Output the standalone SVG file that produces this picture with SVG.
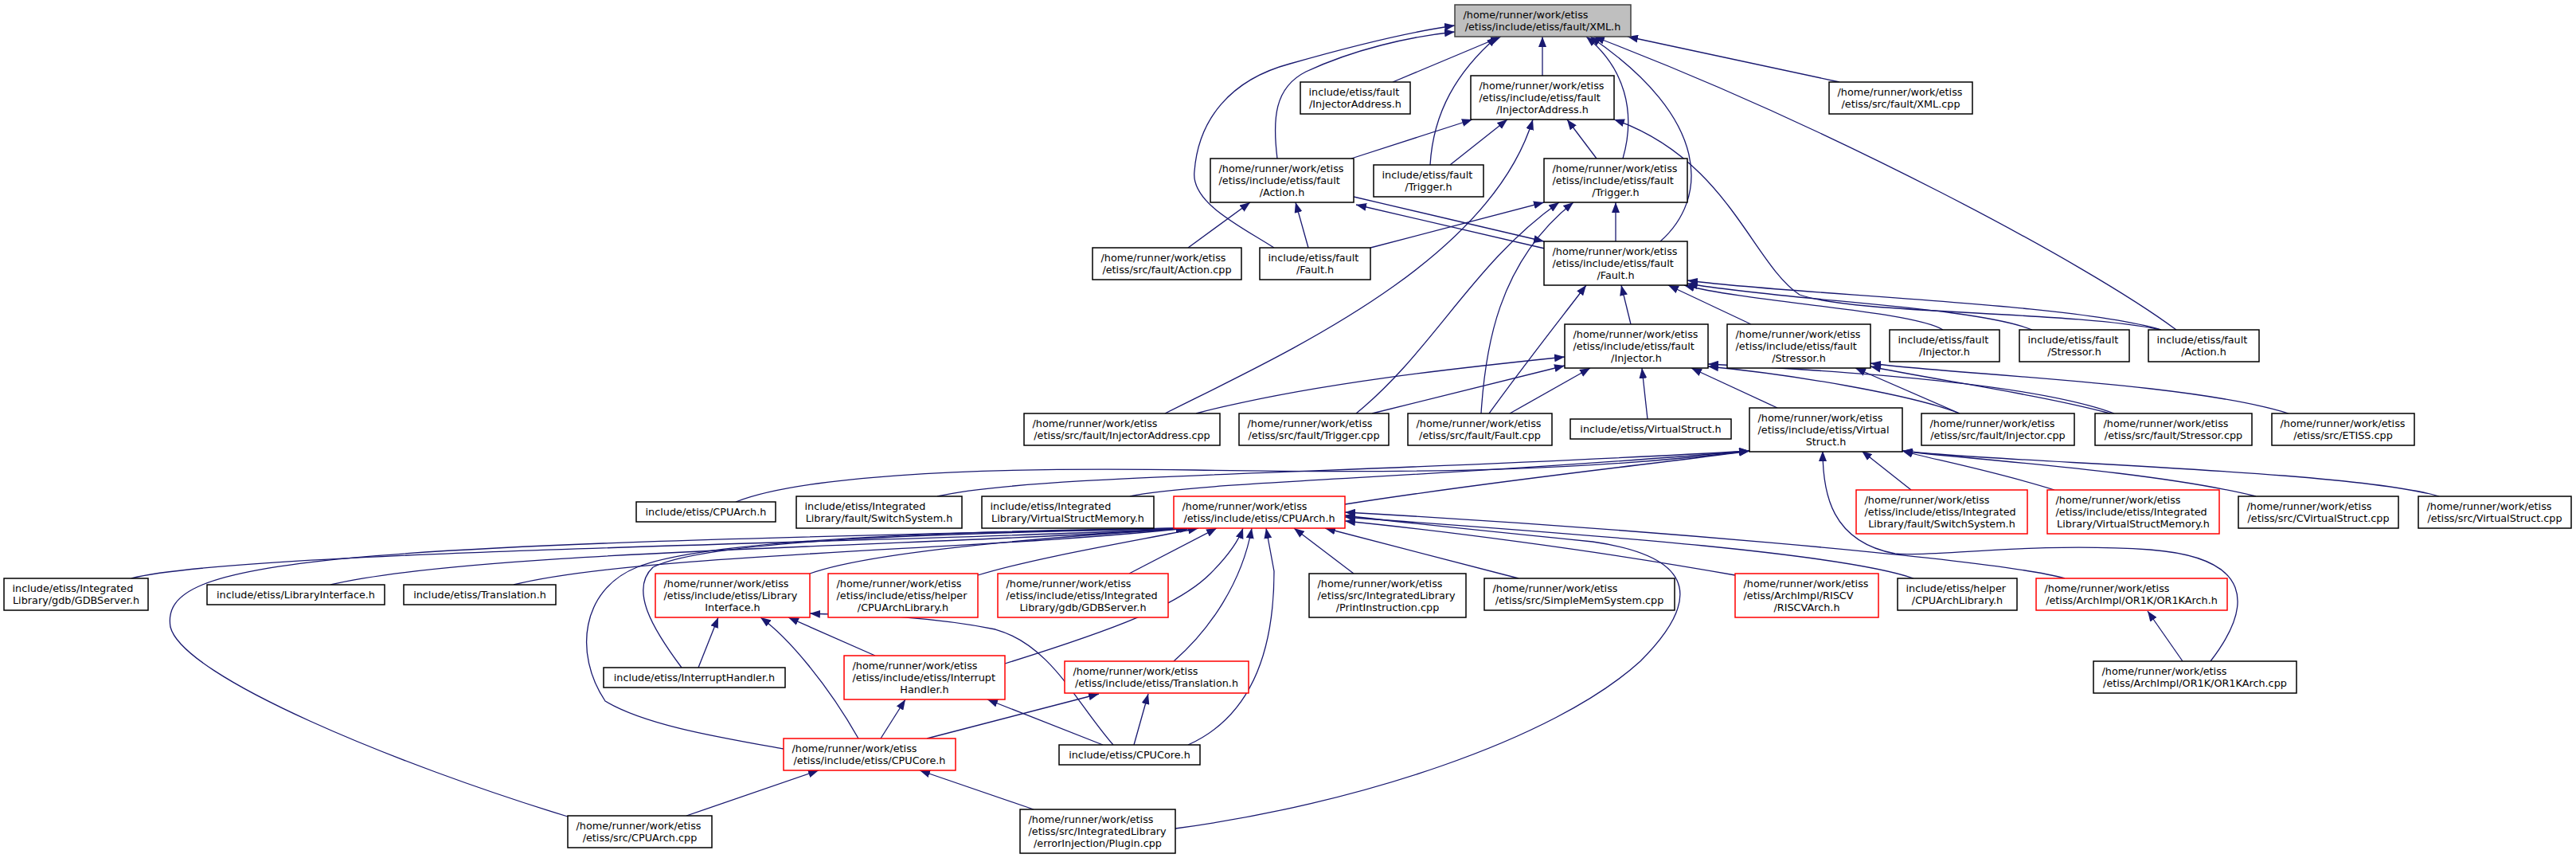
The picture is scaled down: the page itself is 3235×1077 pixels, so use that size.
<svg xmlns="http://www.w3.org/2000/svg" width="3235" height="1077" viewBox="0 0 3235 1077">
<style>
.n rect{fill:#fff;stroke:#000;stroke-width:1.5}
.r rect{stroke:#f00}
.g rect{fill:#bfbfbf;stroke:#404040}
text{font-family:"DejaVu Sans",sans-serif;font-size:12.8px;fill:#000}
.m{text-anchor:middle}
.e path{fill:none;stroke:#191970;stroke-width:1.3;marker-end:url(#a)}
</style>
<defs>
<marker id="a" markerUnits="userSpaceOnUse" markerWidth="14" markerHeight="10" refX="13" refY="5" orient="auto"><path d="M0,0 L13,5 L0,10 z" fill="#191970"/></marker>
</defs>
<rect width="3235" height="1077" fill="#fff"/>
<g class="e" id="edges">
<path d="M1604,199 C1598,150 1600,110 1640,90 C1700,62 1770,46 1827,40"/>
<path d="M1600,311 C1560,285 1495,255 1500,215 C1505,150 1545,100 1620,80 C1690,60 1770,40 1827,32"/>
<path d="M1749,103 L1885,46"/>
<path d="M1796,207 C1800,140 1830,90 1880,46"/>
<path d="M1937,95 L1937,46"/>
<path d="M2038,199 C2055,140 2040,85 1992,46"/>
<path d="M2085,303 C2145,250 2150,150 1997,46"/>
<path d="M2733,414 C2620,330 2300,160 2002,46"/>
<path d="M2310,103 L2044,46"/>
<path d="M1697,199 L1849,150"/>
<path d="M1821,207 L1893,150"/>
<path d="M1463,519 C1610,445 1870,330 1925,150"/>
<path d="M2005,199 L1968,150"/>
<path d="M2714,414 C2600,390 2330,395 2260,370 C2200,330 2170,200 2027,150"/>
<path d="M1940,312 L1703,257"/>
<path d="M1700,247 L1939,303"/>
<path d="M1643,311 L1627,254"/>
<path d="M1492,311 L1570,254"/>
<path d="M1721,311 L1939,254"/>
<path d="M2029,303 L2029,254"/>
<path d="M1703,519 C1800,440 1850,330 1958,254"/>
<path d="M1860,519 C1865,440 1880,330 1976,254"/>
<path d="M1870,519 C1920,450 1960,400 1992,358"/>
<path d="M2048,407 L2036,358"/>
<path d="M2199,407 L2095,358"/>
<path d="M2440,414 C2400,390 2200,380 2115,358"/>
<path d="M2552,414 C2480,385 2250,378 2119,356"/>
<path d="M2714,414 C2600,380 2250,370 2119,352"/>
<path d="M1502,519 C1650,480 1850,460 1965,448"/>
<path d="M1723,519 L1965,459"/>
<path d="M1896,519 L1997,462"/>
<path d="M2069,526 L2062,462"/>
<path d="M2232,512 L2124,462"/>
<path d="M2461,519 C2400,495 2250,470 2145,460"/>
<path d="M2655,519 C2550,480 2300,465 2145,457"/>
<path d="M2461,519 L2330,462"/>
<path d="M2650,519 C2560,495 2420,475 2349,460"/>
<path d="M2874,519 C2750,480 2450,470 2349,456"/>
<path d="M924,630 C1000,600 1200,585 1500,590 C1800,595 2000,590 2197,566"/>
<path d="M1177,623 C1300,595 1700,595 2197,566"/>
<path d="M1419,623 C1500,605 1800,600 2197,566"/>
<path d="M1689,633 C1900,600 2100,580 2197,566"/>
<path d="M2400,615 L2338,566"/>
<path d="M2580,615 C2500,590 2420,575 2389,566"/>
<path d="M2833,623 C2700,590 2450,575 2389,566"/>
<path d="M3063,623 C2950,590 2500,580 2389,566"/>
<path d="M2776,830 C2830,760 2830,700 2700,690 C2550,680 2420,700 2380,695 C2300,680 2289,620 2289,566"/>
<path d="M165,726 C300,690 1200,680 1490,663"/>
<path d="M415,734 C600,690 1200,685 1490,663"/>
<path d="M645,734 C800,695 1250,690 1490,663"/>
<path d="M856,838 C820,790 790,740 820,712 C900,672 1300,668 1490,663"/>
<path d="M713,1025 C500,960 230,850 214,787 C200,700 400,685 1490,663"/>
<path d="M984,940 C900,925 810,910 760,880 C720,820 730,740 800,712 C900,672 1300,665 1490,663"/>
<path d="M1017,720 C1100,690 1350,672 1495,663"/>
<path d="M1228,722 C1300,700 1420,680 1505,663"/>
<path d="M1418,720 L1528,663"/>
<path d="M1262,833 C1400,790 1480,760 1520,720 C1540,700 1555,680 1561,663"/>
<path d="M1474,830 C1520,790 1560,730 1572,663"/>
<path d="M1492,935 C1570,900 1600,820 1600,717 L1590,663"/>
<path d="M1700,720 L1625,663"/>
<path d="M1907,726 L1664,663"/>
<path d="M2179,722 C2000,690 1800,665 1689,654"/>
<path d="M2403,726 C2300,690 1900,665 1689,649"/>
<path d="M2593,726 C2500,700 2000,660 1689,643"/>
<path d="M1476,1040 C1700,1010 1950,930 2060,830 C2130,760 2140,700 2000,680 C1850,665 1750,655 1689,647"/>
<path d="M877,838 L902,775"/>
<path d="M1078,927 C1040,860 990,800 955,775"/>
<path d="M1099,823 L990,775"/>
<path d="M1398,935 C1350,880 1320,810 1250,790 C1150,770 1050,772 1017,770"/>
<path d="M1106,927 L1137,878"/>
<path d="M1385,935 L1240,878"/>
<path d="M1164,927 L1380,871"/>
<path d="M1424,935 L1442,871"/>
<path d="M862,1024 L1028,967"/>
<path d="M1298,1016 L1155,967"/>
<path d="M2741,830 L2697,767"/>
</g>
<g id="n_xml" class="n g"><rect x="1827" y="6" width="221" height="40"/><text x="1837.5" y="22.8">/home/runner/work/etiss</text><text class="m" x="1937.5" y="37.8">/etiss/include/etiss/fault/XML.h</text></g>
<g id="n_iaddr_inc" class="n"><rect x="1633" y="103" width="138" height="40"/><text x="1643.5" y="119.8">include/etiss/fault</text><text class="m" x="1702" y="134.8">/InjectorAddress.h</text></g>
<g id="n_iaddr" class="n"><rect x="1847" y="95" width="180" height="55"/><text x="1857.5" y="111.8">/home/runner/work/etiss</text><text x="1857.5" y="126.8">/etiss/include/etiss/fault</text><text class="m" x="1937" y="141.8">/InjectorAddress.h</text></g>
<g id="n_xmlcpp" class="n"><rect x="2297" y="103" width="180" height="40"/><text x="2307.5" y="119.8">/home/runner/work/etiss</text><text class="m" x="2387" y="134.8">/etiss/src/fault/XML.cpp</text></g>
<g id="n_action" class="n"><rect x="1520" y="199" width="180" height="55"/><text x="1530.5" y="215.8">/home/runner/work/etiss</text><text x="1530.5" y="230.8">/etiss/include/etiss/fault</text><text class="m" x="1610" y="245.8">/Action.h</text></g>
<g id="n_trig_inc" class="n"><rect x="1725" y="207" width="138" height="40"/><text x="1735.5" y="223.8">include/etiss/fault</text><text class="m" x="1794" y="238.8">/Trigger.h</text></g>
<g id="n_trig" class="n"><rect x="1939" y="199" width="180" height="55"/><text x="1949.5" y="215.8">/home/runner/work/etiss</text><text x="1949.5" y="230.8">/etiss/include/etiss/fault</text><text class="m" x="2029" y="245.8">/Trigger.h</text></g>
<g id="n_actioncpp" class="n"><rect x="1372" y="311" width="187" height="40"/><text x="1382.5" y="327.8">/home/runner/work/etiss</text><text class="m" x="1465.5" y="342.8">/etiss/src/fault/Action.cpp</text></g>
<g id="n_fault_inc" class="n"><rect x="1582" y="311" width="139" height="40"/><text x="1592.5" y="327.8">include/etiss/fault</text><text class="m" x="1651.5" y="342.8">/Fault.h</text></g>
<g id="n_fault" class="n"><rect x="1939" y="303" width="180" height="55"/><text x="1949.5" y="319.8">/home/runner/work/etiss</text><text x="1949.5" y="334.8">/etiss/include/etiss/fault</text><text class="m" x="2029" y="349.8">/Fault.h</text></g>
<g id="n_inj" class="n"><rect x="1965" y="407" width="180" height="55"/><text x="1975.5" y="423.8">/home/runner/work/etiss</text><text x="1975.5" y="438.8">/etiss/include/etiss/fault</text><text class="m" x="2055" y="453.8">/Injector.h</text></g>
<g id="n_stress" class="n"><rect x="2169" y="407" width="180" height="55"/><text x="2179.5" y="423.8">/home/runner/work/etiss</text><text x="2179.5" y="438.8">/etiss/include/etiss/fault</text><text class="m" x="2259" y="453.8">/Stressor.h</text></g>
<g id="n_inj_inc" class="n"><rect x="2373" y="414" width="138" height="40"/><text x="2383.5" y="430.8">include/etiss/fault</text><text class="m" x="2442" y="445.8">/Injector.h</text></g>
<g id="n_stress_inc" class="n"><rect x="2536" y="414" width="138" height="40"/><text x="2546.5" y="430.8">include/etiss/fault</text><text class="m" x="2605" y="445.8">/Stressor.h</text></g>
<g id="n_action_inc" class="n"><rect x="2698" y="414" width="139" height="40"/><text x="2708.5" y="430.8">include/etiss/fault</text><text class="m" x="2767.5" y="445.8">/Action.h</text></g>
<g id="n_iaddrcpp" class="n"><rect x="1286" y="519" width="246" height="40"/><text x="1296.5" y="535.8">/home/runner/work/etiss</text><text class="m" x="1409" y="550.8">/etiss/src/fault/InjectorAddress.cpp</text></g>
<g id="n_trigcpp" class="n"><rect x="1556" y="519" width="188" height="40"/><text x="1566.5" y="535.8">/home/runner/work/etiss</text><text class="m" x="1650" y="550.8">/etiss/src/fault/Trigger.cpp</text></g>
<g id="n_faultcpp" class="n"><rect x="1768" y="519" width="181" height="40"/><text x="1778.5" y="535.8">/home/runner/work/etiss</text><text class="m" x="1858.5" y="550.8">/etiss/src/fault/Fault.cpp</text></g>
<g id="n_vs_inc" class="n"><rect x="1972" y="526" width="202" height="25"/><text class="m" x="2073" y="542.8">include/etiss/VirtualStruct.h</text></g>
<g id="n_vs" class="n"><rect x="2197" y="512" width="192" height="55"/><text x="2207.5" y="528.8">/home/runner/work/etiss</text><text x="2207.5" y="543.8">/etiss/include/etiss/Virtual</text><text class="m" x="2293" y="558.8">Struct.h</text></g>
<g id="n_injcpp" class="n"><rect x="2413" y="519" width="192" height="40"/><text x="2423.5" y="535.8">/home/runner/work/etiss</text><text class="m" x="2509" y="550.8">/etiss/src/fault/Injector.cpp</text></g>
<g id="n_stresscpp" class="n"><rect x="2631" y="519" width="197" height="40"/><text x="2641.5" y="535.8">/home/runner/work/etiss</text><text class="m" x="2729.5" y="550.8">/etiss/src/fault/Stressor.cpp</text></g>
<g id="n_etisscpp" class="n"><rect x="2853" y="519" width="179" height="40"/><text x="2863.5" y="535.8">/home/runner/work/etiss</text><text class="m" x="2942.5" y="550.8">/etiss/src/ETISS.cpp</text></g>
<g id="n_cpuarch_inc" class="n"><rect x="799" y="630" width="175" height="25"/><text class="m" x="886.5" y="646.8">include/etiss/CPUArch.h</text></g>
<g id="n_ss_inc" class="n"><rect x="1000" y="623" width="208" height="40"/><text x="1010.5" y="639.8">include/etiss/Integrated</text><text class="m" x="1104" y="654.8">Library/fault/SwitchSystem.h</text></g>
<g id="n_vsm_inc" class="n"><rect x="1233" y="623" width="216" height="40"/><text x="1243.5" y="639.8">include/etiss/Integrated</text><text class="m" x="1341" y="654.8">Library/VirtualStructMemory.h</text></g>
<g id="n_cpuarch" class="n r"><rect x="1474" y="623" width="215" height="40"/><text x="1484.5" y="639.8">/home/runner/work/etiss</text><text class="m" x="1581.5" y="654.8">/etiss/include/etiss/CPUArch.h</text></g>
<g id="n_ss" class="n r"><rect x="2331" y="615" width="215" height="55"/><text x="2341.5" y="631.8">/home/runner/work/etiss</text><text x="2341.5" y="646.8">/etiss/include/etiss/Integrated</text><text class="m" x="2438.5" y="661.8">Library/fault/SwitchSystem.h</text></g>
<g id="n_vsm" class="n r"><rect x="2571" y="615" width="216" height="55"/><text x="2581.5" y="631.8">/home/runner/work/etiss</text><text x="2581.5" y="646.8">/etiss/include/etiss/Integrated</text><text class="m" x="2679" y="661.8">Library/VirtualStructMemory.h</text></g>
<g id="n_cvs" class="n"><rect x="2811" y="623" width="201" height="40"/><text x="2821.5" y="639.8">/home/runner/work/etiss</text><text class="m" x="2911.5" y="654.8">/etiss/src/CVirtualStruct.cpp</text></g>
<g id="n_vscpp" class="n"><rect x="3037" y="623" width="192" height="40"/><text x="3047.5" y="639.8">/home/runner/work/etiss</text><text class="m" x="3133" y="654.8">/etiss/src/VirtualStruct.cpp</text></g>
<g id="n_gdb_inc" class="n"><rect x="5" y="726" width="181" height="40"/><text x="15.5" y="742.8">include/etiss/Integrated</text><text class="m" x="95.5" y="757.8">Library/gdb/GDBServer.h</text></g>
<g id="n_li_inc" class="n"><rect x="260" y="734" width="223" height="25"/><text class="m" x="371.5" y="750.8">include/etiss/LibraryInterface.h</text></g>
<g id="n_tr_inc" class="n"><rect x="507" y="734" width="191" height="25"/><text class="m" x="602.5" y="750.8">include/etiss/Translation.h</text></g>
<g id="n_li" class="n r"><rect x="823" y="720" width="194" height="55"/><text x="833.5" y="736.8">/home/runner/work/etiss</text><text x="833.5" y="751.8">/etiss/include/etiss/Library</text><text class="m" x="920" y="766.8">Interface.h</text></g>
<g id="n_cal" class="n r"><rect x="1040" y="720" width="188" height="55"/><text x="1050.5" y="736.8">/home/runner/work/etiss</text><text x="1050.5" y="751.8">/etiss/include/etiss/helper</text><text class="m" x="1134" y="766.8">/CPUArchLibrary.h</text></g>
<g id="n_gdb" class="n r"><rect x="1253" y="720" width="214" height="55"/><text x="1263.5" y="736.8">/home/runner/work/etiss</text><text x="1263.5" y="751.8">/etiss/include/etiss/Integrated</text><text class="m" x="1360" y="766.8">Library/gdb/GDBServer.h</text></g>
<g id="n_print" class="n"><rect x="1644" y="720" width="197" height="55"/><text x="1654.5" y="736.8">/home/runner/work/etiss</text><text x="1654.5" y="751.8">/etiss/src/IntegratedLibrary</text><text class="m" x="1742.5" y="766.8">/PrintInstruction.cpp</text></g>
<g id="n_sms" class="n"><rect x="1864" y="726" width="239" height="40"/><text x="1874.5" y="742.8">/home/runner/work/etiss</text><text class="m" x="1983.5" y="757.8">/etiss/src/SimpleMemSystem.cpp</text></g>
<g id="n_riscv" class="n r"><rect x="2179" y="720" width="180" height="55"/><text x="2189.5" y="736.8">/home/runner/work/etiss</text><text x="2189.5" y="751.8">/etiss/ArchImpl/RISCV</text><text class="m" x="2269" y="766.8">/RISCVArch.h</text></g>
<g id="n_cal_inc" class="n"><rect x="2383" y="726" width="150" height="40"/><text x="2393.5" y="742.8">include/etiss/helper</text><text class="m" x="2458" y="757.8">/CPUArchLibrary.h</text></g>
<g id="n_or1k" class="n r"><rect x="2557" y="726" width="240" height="40"/><text x="2567.5" y="742.8">/home/runner/work/etiss</text><text class="m" x="2677" y="757.8">/etiss/ArchImpl/OR1K/OR1KArch.h</text></g>
<g id="n_ih_inc" class="n"><rect x="758" y="838" width="228" height="25"/><text class="m" x="872" y="854.8">include/etiss/InterruptHandler.h</text></g>
<g id="n_ih" class="n r"><rect x="1060" y="823" width="202" height="55"/><text x="1070.5" y="839.8">/home/runner/work/etiss</text><text x="1070.5" y="854.8">/etiss/include/etiss/Interrupt</text><text class="m" x="1161" y="869.8">Handler.h</text></g>
<g id="n_tr" class="n r"><rect x="1337" y="830" width="231" height="40"/><text x="1347.5" y="846.8">/home/runner/work/etiss</text><text class="m" x="1452.5" y="861.8">/etiss/include/etiss/Translation.h</text></g>
<g id="n_or1kcpp" class="n"><rect x="2629" y="830" width="255" height="40"/><text x="2639.5" y="846.8">/home/runner/work/etiss</text><text class="m" x="2756.5" y="861.8">/etiss/ArchImpl/OR1K/OR1KArch.cpp</text></g>
<g id="n_cpucore" class="n r"><rect x="984" y="927" width="216" height="40"/><text x="994.5" y="943.8">/home/runner/work/etiss</text><text class="m" x="1092" y="958.8">/etiss/include/etiss/CPUCore.h</text></g>
<g id="n_cpucore_inc" class="n"><rect x="1330" y="935" width="177" height="25"/><text class="m" x="1418.5" y="951.8">include/etiss/CPUCore.h</text></g>
<g id="n_cpuarchcpp" class="n"><rect x="713" y="1024" width="181" height="40"/><text x="723.5" y="1040.8">/home/runner/work/etiss</text><text class="m" x="803.5" y="1055.8">/etiss/src/CPUArch.cpp</text></g>
<g id="n_plugin" class="n"><rect x="1281" y="1016" width="195" height="55"/><text x="1291.5" y="1032.8">/home/runner/work/etiss</text><text x="1291.5" y="1047.8">/etiss/src/IntegratedLibrary</text><text class="m" x="1378.5" y="1062.8">/errorInjection/Plugin.cpp</text></g>
</svg>
